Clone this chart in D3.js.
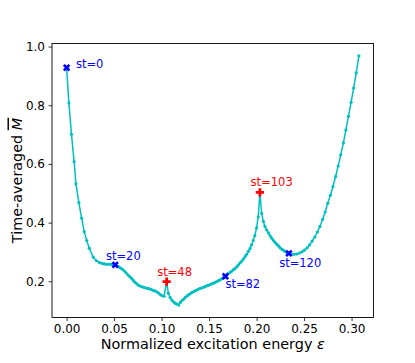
<!DOCTYPE html>
<html>
<head>
<meta charset="utf-8">
<script src="https://cdn.jsdelivr.net/npm/d3@7"></script>
<style>
  body { margin: 0; background: #fff; }
  svg { display: block; font-family: "DejaVu Sans", sans-serif; }
</style>
</head>
<body>
<svg id="chart" width="415" height="363"></svg>
<script>
// normalized excitation energy of each state, st = 0..147
const eps = [
  0.0000, 0.0024, 0.0051, 0.0079, 0.0098, 0.0129, 0.0158, 0.0185, 0.0212, 0.0238,
  0.0280, 0.0314, 0.0345, 0.0372, 0.0398, 0.0419, 0.0440, 0.0461, 0.0480, 0.0496,
  0.0512, 0.0532, 0.0551, 0.0569, 0.0588, 0.0607, 0.0626, 0.0645, 0.0664, 0.0683,
  0.0702, 0.0721, 0.0740, 0.0759, 0.0778, 0.0797, 0.0816, 0.0835, 0.0854, 0.0873,
  0.0892, 0.0911, 0.0929, 0.0948, 0.0967, 0.0986, 0.1005, 0.1026, 0.1053, 0.1071,
  0.1089, 0.1107, 0.1125, 0.1144, 0.1162, 0.1180, 0.1198, 0.1217, 0.1235, 0.1253,
  0.1272, 0.1289, 0.1307, 0.1325, 0.1344, 0.1362, 0.1380, 0.1399, 0.1417, 0.1435,
  0.1453, 0.1472, 0.1489, 0.1507, 0.1526, 0.1544, 0.1562, 0.1580, 0.1599, 0.1617,
  0.1635, 0.1654, 0.1672, 0.1688, 0.1706, 0.1723, 0.1741, 0.1758, 0.1775, 0.1793,
  0.1809, 0.1827, 0.1844, 0.1861, 0.1879, 0.1896, 0.1914, 0.1931, 0.1947, 0.1965,
  0.1982, 0.2000, 0.2017, 0.2035, 0.2053, 0.2071, 0.2088, 0.2106, 0.2124, 0.2142,
  0.2160, 0.2178, 0.2196, 0.2214, 0.2232, 0.2249, 0.2267, 0.2285, 0.2303, 0.2321,
  0.2340, 0.2367, 0.2395, 0.2422, 0.2449, 0.2477, 0.2504, 0.2532, 0.2558, 0.2585,
  0.2613, 0.2640, 0.2667, 0.2695, 0.2722, 0.2749, 0.2777, 0.2804, 0.2832, 0.2859,
  0.2886, 0.2914, 0.2940, 0.2967, 0.2995, 0.3022, 0.3049, 0.3077
]
// time-averaged M for the same states
const mBar = [
  0.928, 0.808, 0.701, 0.608, 0.532, 0.468, 0.415, 0.369, 0.339, 0.313,
  0.282, 0.270, 0.264, 0.261, 0.259, 0.258, 0.258, 0.258, 0.257, 0.256,
  0.256, 0.252, 0.249, 0.245, 0.241, 0.235, 0.229, 0.222, 0.216, 0.210,
  0.203, 0.196, 0.191, 0.186, 0.183, 0.181, 0.179, 0.177, 0.176, 0.174,
  0.172, 0.169, 0.167, 0.164, 0.160, 0.155, 0.151, 0.149, 0.199, 0.159,
  0.145, 0.136, 0.130, 0.125, 0.122, 0.119, 0.128, 0.135, 0.140, 0.146,
  0.151, 0.155, 0.159, 0.163, 0.166, 0.169, 0.172, 0.175, 0.177, 0.179,
  0.181, 0.184, 0.186, 0.188, 0.191, 0.193, 0.196, 0.199, 0.202, 0.205,
  0.209, 0.213, 0.217, 0.223, 0.227, 0.231, 0.235, 0.240, 0.244, 0.250,
  0.256, 0.263, 0.269, 0.276, 0.284, 0.292, 0.302, 0.312, 0.324, 0.339,
  0.356, 0.382, 0.419, 0.503, 0.431, 0.404, 0.387, 0.375, 0.365, 0.355,
  0.347, 0.339, 0.332, 0.326, 0.320, 0.314, 0.309, 0.305, 0.301, 0.298,
  0.295, 0.293, 0.292, 0.293, 0.296, 0.300, 0.306, 0.314, 0.324, 0.337,
  0.351, 0.368, 0.387, 0.411, 0.436, 0.466, 0.493, 0.523, 0.557, 0.593,
  0.631, 0.672, 0.716, 0.762, 0.810, 0.859, 0.910, 0.968
]
// highlighted states and which set they belong to
const markedSt = [0, 20, 48, 82, 103, 120]
const markedSet = ['A', 'A', 'B', 'A', 'B', 'A']

const xTicks = [0, 0.05, 0.10, 0.15, 0.20, 0.25, 0.30]
const yTicks = [0.2, 0.4, 0.6, 0.8, 1.0]

const points = eps.map((e, i) => ({st: i, e, m: mBar[i]}))

// --- layout
const box = {left: 52, right: 373.5, top: 43.5, bottom: 317.5}
const svg = d3.select('#chart')

// matplotlib style autoscale: 5% padding around the data
const pad = (ext) => {
  const span = ext[1] - ext[0]
  return [ext[0] - span * 0.05, ext[1] + span * 0.05]
}
const x = d3.scaleLinear().domain(pad(d3.extent(eps))).range([box.left, box.right])
const y = d3.scaleLinear().domain(pad(d3.extent(mBar))).range([box.bottom, box.top])

// --- axes
const xAxis = svg.append('g')
  .attr('transform', `translate(0,${box.bottom})`)
  .call(d3.axisBottom(x).tickValues(xTicks).tickFormat(d3.format('.2f'))
    .tickSize(3.5).tickPadding(3))
const yAxis = svg.append('g')
  .attr('transform', `translate(${box.left},0)`)
  .call(d3.axisLeft(y).tickValues(yTicks).tickFormat(d3.format('.1f'))
    .tickSize(3.5).tickPadding(3.5))
for (const ax of [xAxis, yAxis]) {
  ax.select('.domain').remove()
  ax.selectAll('.tick line').attr('stroke', '#000').attr('stroke-width', 0.8)
  ax.selectAll('.tick text')
    .attr('fill', '#000')
    .style('font-family', '"DejaVu Sans", sans-serif')
    .style('font-size', '12px')
}

// --- curve
const cyan = '#00bfbf'
svg.append('path')
  .datum(points)
  .attr('fill', 'none')
  .attr('stroke', cyan)
  .attr('stroke-width', 1.5)
  .attr('d', d3.line().x((d) => x(d.e)).y((d) => y(d.m)))
svg.append('g')
  .selectAll('circle')
  .data(points)
  .join('circle')
  .attr('cx', (d) => x(d.e))
  .attr('cy', (d) => y(d.m))
  .attr('r', 1.6)
  .attr('fill', cyan)

// --- highlighted states
const setColor = {A: '#0000ff', B: '#ff0000'}
// label offset from its marker, in px (text start, baseline)
const labelOffset = {
  0: [9.3, 0], 20: [-9.3, -5], 48: [-9.4, -6],
  82: [0, 11.7], 103: [-9.3, -6], 120: [-9.7, 13.8]
}
const marks = markedSt.map((s, i) => ({...points[s], set: markedSet[i]}))
const g = svg.append('g')
g.selectAll('path')
  .data(marks)
  .join('path')
  .attr('d', (d) => d3.symbol(d3.symbolCross, d.set === 'A' ? 34 : 38)())
  .attr('transform', (d) =>
    `translate(${x(d.e)},${y(d.m)}) rotate(${d.set === 'A' ? 45 : 0})`)
  .attr('fill', (d) => setColor[d.set])
g.selectAll('text')
  .data(marks)
  .join('text')
  .attr('x', (d) => x(d.e) + labelOffset[d.st][0])
  .attr('y', (d) => y(d.m) + labelOffset[d.st][1])
  .attr('fill', (d) => setColor[d.set])
  .style('font-size', '11.5px')
  .text((d) => `st=${d.st}`)

// --- frame on top of everything
svg.append('rect')
  .attr('x', box.left).attr('y', box.top)
  .attr('width', box.right - box.left).attr('height', box.bottom - box.top)
  .attr('fill', 'none').attr('stroke', '#000').attr('stroke-width', 0.9)

// --- axis titles
const xl = svg.append('text')
  .attr('x', (box.left + box.right) / 2).attr('y', 348.5)
  .attr('text-anchor', 'middle')
  .style('font-size', '14.4px')
xl.append('tspan').text('Normalized excitation energy ')
xl.append('tspan').style('font-style', 'italic').text('ε')

const yl = svg.append('text')
  .attr('transform', `translate(21.5,${(box.top + box.bottom) / 2}) rotate(-90)`)
  .attr('text-anchor', 'middle')
  .style('font-size', '14.4px')
yl.append('tspan').text('Time-averaged ')
yl.append('tspan').style('font-style', 'italic')
  .style('text-decoration', 'overline').text('M')
</script>
</body>
</html>
